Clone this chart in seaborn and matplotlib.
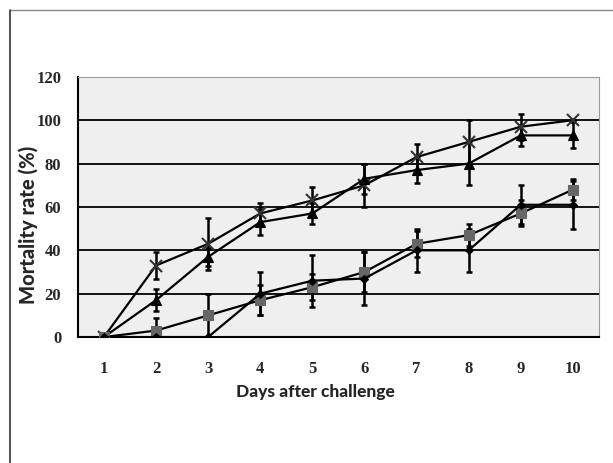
import numpy as np
import pandas as pd
import seaborn as sns
import matplotlib.pyplot as plt
from matplotlib.lines import Line2D

# Data
days = [1, 2, 3, 4, 5, 6, 7, 8, 9, 10]

cross = [0, 33, 43, 57, 63, 70, 83, 90, 97, 100]
cross_err = [0, 6, 12, 5, 6, 10, 6, 10, 6, 0]

triangle = [0, 17, 37, 53, 57, 73, 77, 80, 93, 93]
triangle_err = [0, 5, 4, 6, 5, 7, 6, 10, 5, 6]

square = [0, 3, 10, 17, 23, 30, 43, 47, 57, 68]
square_err = [0, 6, 10, 7, 6, 9, 6, 5, 6, 5]

diamond = [0, 0, 0, 20, 26, 27, 40, 40, 61, 61]
diamond_err = [0, 0, 0, 10, 12, 12, 10, 10, 9, 11]

series = [
    ("cross", cross, cross_err, "x", "#333333", 9),
    ("triangle", triangle, triangle_err, "^", "black", 7),
    ("square", square, square_err, "s", "#666666", 7),
    ("diamond", diamond, diamond_err, "D", "black", 4),
]

sns.set_style("white")
fig = plt.figure(figsize=(6.13, 4.63), dpi=100)
ax = fig.add_axes([0.127, 0.272, 0.85, 0.562])
ax.set_facecolor("#efefef")

for name, vals, errs, mk, col, ms in series:
    df = pd.DataFrame({"day": days, "rate": vals})
    ax.errorbar(days, vals, yerr=errs, fmt="none", ecolor="black",
                elinewidth=1.8, capsize=2.5, capthick=1.8, zorder=3)
    sns.lineplot(data=df, x="day", y="rate", ax=ax, color="black", lw=1.6,
                 marker=mk, markersize=ms, markerfacecolor=col,
                 markeredgecolor=col, markeredgewidth=1.5 if mk == "x" else 0.8,
                 zorder=4)

ax.set_xlim(0.5, 10.5)
ax.set_ylim(0, 120)
ax.set_yticks(range(0, 121, 20))
ax.yaxis.grid(True, color="black", lw=1.3)
ax.set_axisbelow(True)

ax.set_xticks(days)
ax.set_xticks(np.arange(0.5, 11, 1), minor=True)
ax.tick_params(axis="x", which="major", length=0, pad=17)
ax.tick_params(axis="x", which="minor", length=4, width=1, color="black", direction="out")
ax.tick_params(axis="y", length=5, width=1, color="black", direction="out", pad=7)

for lab in ax.get_xticklabels() + ax.get_yticklabels():
    lab.set_fontfamily("Liberation Serif")
    lab.set_fontweight("bold")
    lab.set_fontsize(12)

ax.set_xlabel("Days after challenge", fontfamily="Lato", fontweight="black",
              fontsize=12.5, va="center", ha="center")
ax.xaxis.set_label_coords(0.455, -0.212)
ax.set_ylabel("Mortality rate (%)", fontfamily="Lato", fontweight="black",
              fontsize=14.5, va="center", ha="center")
ax.yaxis.set_label_coords(-0.096, 0.431)

for s in ["left", "bottom"]:
    ax.spines[s].set_color("black")
    ax.spines[s].set_linewidth(1.5)
for s in ["top", "right"]:
    ax.spines[s].set_color("#999999")
    ax.spines[s].set_linewidth(0.8)

# partial frame around the figure (top and left edges only)
fig.add_artist(Line2D([0.0155, 1.0], [0.978, 0.978], transform=fig.transFigure,
                      color="#888888", lw=1.0))
fig.add_artist(Line2D([0.0155, 0.0155], [0.0, 0.978], transform=fig.transFigure,
                      color="#333333", lw=1.2))

fig.savefig("out.png", dpi=100)
